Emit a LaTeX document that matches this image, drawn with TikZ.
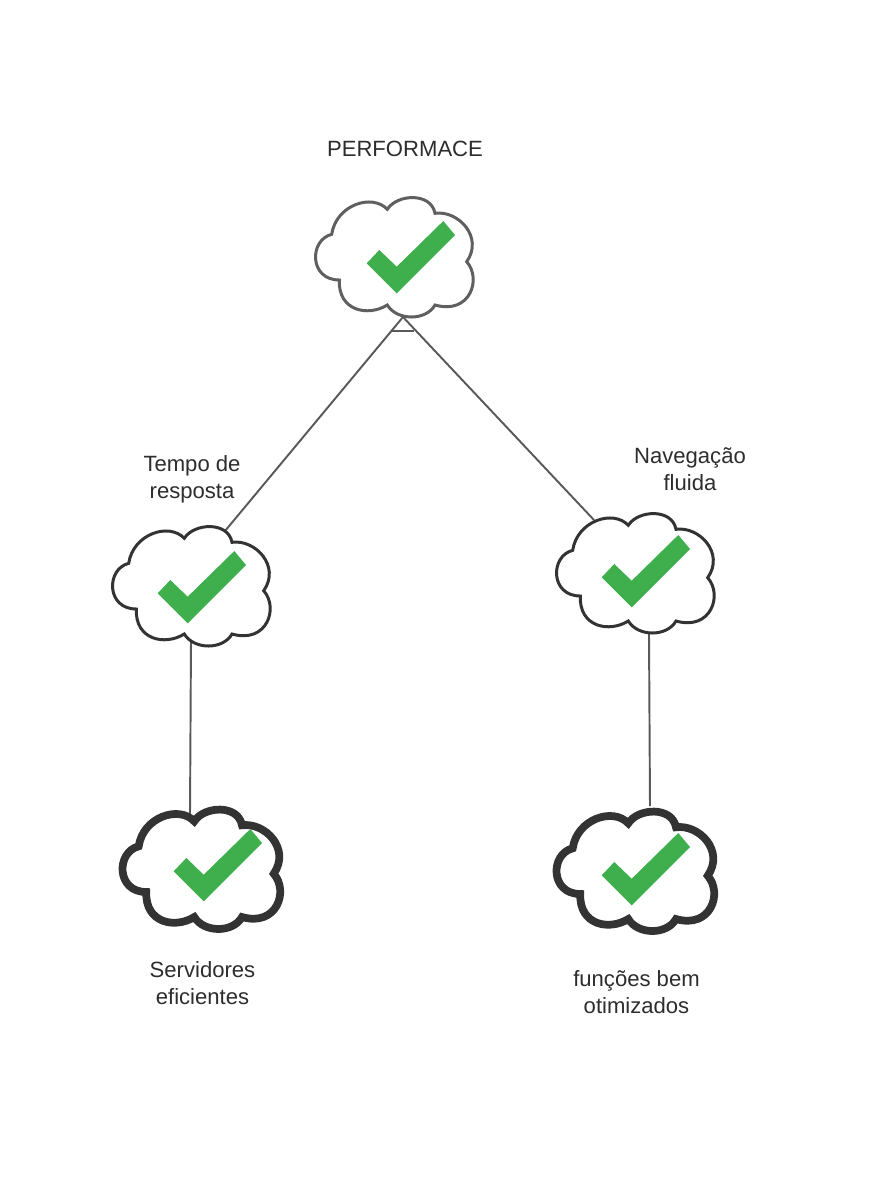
\documentclass[tikz,border=0pt]{standalone}
\usepackage{fontspec}
\setmainfont{Liberation Sans}
\usetikzlibrary{positioning}
\tikzset{
  label_text/.style={inner sep=0,align=center,text=color_text,font=\fontsize{6.28}{7.68}\selectfont},
  link_line/.style={draw=color_link,line width=0.55pt},
  pics/cloud/.style={code={
    \draw[pic actions,fill=white,line join=miter] (-6.7,-47.7)
      .. controls (3,-63) and (37,-65) .. (41,-43.7)
      .. controls (64,-47) and (90,-20) .. (72.7,4.7)
      .. controls (88,22) and (76,58) .. (41,48)
      .. controls (32,64) and (3,64) .. (-6.7,48)
      .. controls (-26,60) and (-56,54) .. (-54.7,23)
      .. controls (-85,23) and (-85,-17) .. (-62.3,-22.7)
      .. controls (-58,-52) and (-22,-64) .. cycle;
  }},
  pics/tick/.style={code={
    \fill[color_tick] (49.3,-36) -- (61,-22) -- (2.7,36.3) -- (-27.3,6.3) -- (-14.7,-7) -- (2.7,9.7) -- cycle;
  }}
}
\begin{document}
\begin{tikzpicture}[x=0.01cm,y=-0.01cm]
    \definecolor{color_text}{RGB}{45,45,45}
    \definecolor{color_link}{RGB}{89,89,89}
    \definecolor{color_top}{RGB}{95,95,95}
    \definecolor{color_dark}{RGB}{51,51,51}
    \definecolor{color_tick}{RGB}{62,175,76}
    \useasboundingbox (0,0) rectangle (885,1193);

    \coordinate (perf_foot) at (403,317);
    \coordinate (bar_left) at (392,331);
    \coordinate (bar_right) at (414,331);
    \coordinate (tempo_top) at (225,531);
    \coordinate (tempo_foot) at (191,640);
    \coordinate (nav_top) at (594,520);
    \coordinate (nav_foot) at (649,633);
    \coordinate (serv_top) at (190,815);
    \coordinate (func_top) at (650,806);

    \draw[link_line] (perf_foot) -- (tempo_top);
    \draw[link_line] (perf_foot) -- (nav_top);
    \draw[link_line] (bar_left) -- (bar_right);
    \draw[link_line] (tempo_foot) -- (serv_top);
    \draw[link_line] (nav_foot) -- (func_top);

    \pic[draw=color_top,line width=0.85pt] at (394,257) {cloud};
    \pic at (394,257) {tick};
    \pic[draw=color_dark,line width=0.85pt] at (191,586) {cloud};
    \pic at (185,587) {tick};
    \pic[draw=color_dark,line width=0.85pt] at (635,573) {cloud};
    \pic at (629,571) {tick};
    \pic[draw=color_dark,line width=2.2pt] at (201,869) {cloud};
    \pic at (201,865) {tick};
    \pic[draw=color_dark,line width=2.2pt] at (635,871) {cloud};
    \pic at (629,869) {tick};

    \node[label_text] (perf_text) at (405,149) {PERFORMACE};
    \node[label_text] (tempo_text) at (192,479.5) {Tempo de\\resposta};
    \node[label_text] (nav_text) at (690,469) {Navegação\\fluida};
    \node[label_text] (serv_text) at (202.5,983) {Servidores\\eficientes};
    \node[label_text] (func_text) at (636.5,992) {funções bem\\otimizados};
\end{tikzpicture}
\end{document}
